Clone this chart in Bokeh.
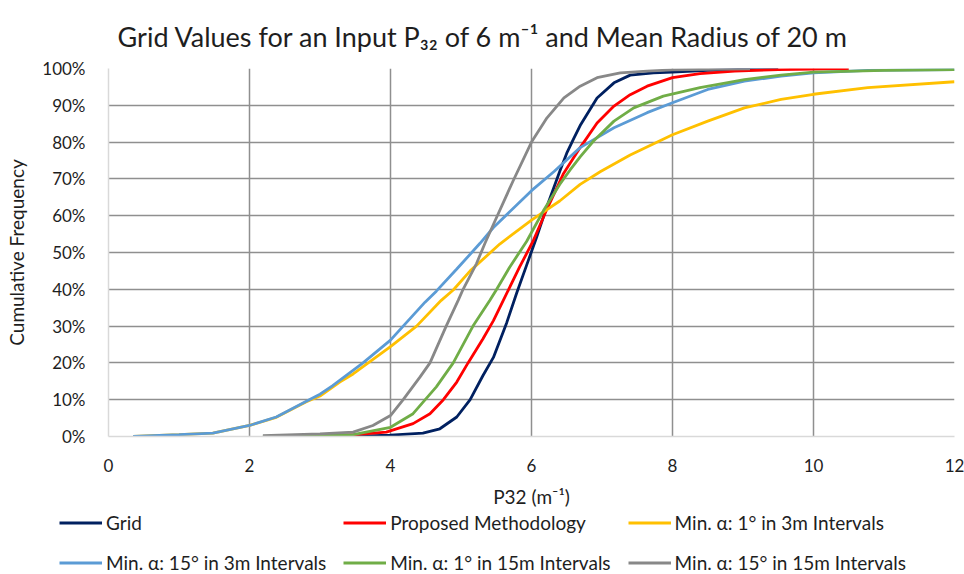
from bokeh.plotting import figure
from bokeh.layouts import column
from bokeh.models import (Range1d, FixedTicker, PrintfTickFormatter, Legend, LegendItem, Label)
from bokeh.embed import file_html
from bokeh.resources import INLINE

# ---- data ----
grid_x = [3.42, 4.0, 4.46, 4.70, 4.94, 5.13, 5.31, 5.46, 5.65, 5.79, 5.93, 6.07, 6.21, 6.40, 6.50,
          6.60, 6.69, 6.93, 7.17, 7.40, 7.73, 8.0, 8.5, 9.0, 9.5]
grid_y = [0, 0.4, 0.9, 2.1, 5.3, 10, 16.5, 21.5, 31, 39, 46.5, 54, 62, 72, 77,
          81, 84.5, 92, 96.1, 98.2, 98.8, 99.0, 99.5, 99.8, 100]

prop_x = [3.0, 3.5, 3.94, 4.32, 4.56, 4.75, 4.94, 5.10, 5.31, 5.46, 5.60, 5.83, 6.02, 6.21, 6.45,
          6.69, 6.93, 7.17, 7.40, 7.64, 8.0, 8.39, 8.88, 9.5, 10.5]
prop_y = [0, 0.5, 1.2, 3.5, 6.2, 10, 14.8, 20, 26.5, 31.5, 37, 46, 53, 61.4, 71.3,
          78.5, 85.2, 89.8, 92.9, 95.2, 97.5, 98.6, 99.3, 99.7, 100]

a1_3m_x = [0.35, 1.0, 1.48, 2.0, 2.38, 2.8, 3.0, 3.28, 3.47, 4.0, 4.37, 4.72, 4.89, 5.13, 5.55,
           6.0, 6.40, 6.69, 6.98, 7.40, 8.0, 8.5, 9.02, 9.54, 10.0, 10.77, 12.0]
a1_3m_y = [0, 0.5, 0.9, 3, 5.2, 9.4, 11, 14.8, 17, 24.4, 30, 37, 39.8, 45, 52.3,
           58.8, 64, 68.5, 72, 76.5, 82, 85.7, 89.3, 91.6, 93, 94.8, 96.4]

a15_3m_x = [0.35, 1.0, 1.48, 2.0, 2.38, 2.8, 3.0, 3.18, 3.61, 4.0, 4.18, 4.49, 4.65, 4.94, 5.27,
            5.46, 6.0, 6.32, 6.69, 7.17, 7.64, 8.0, 8.5, 9.02, 9.54, 10.0, 10.77, 12.0]
a15_3m_y = [0, 0.5, 0.9, 3, 5.3, 9.5, 11.5, 13.8, 20, 26.2, 30, 36.5, 39.5, 45.5, 52.5,
            56.8, 66.8, 72, 78.5, 83.9, 88, 90.7, 94.3, 96.6, 97.9, 98.8, 99.5, 99.7]

a1_15m_x = [2.19, 3.0, 3.47, 4.0, 4.32, 4.65, 4.89, 5.17, 5.41, 5.50, 5.69, 5.93, 6.17, 6.40, 6.55,
            6.69, 6.88, 7.17, 7.45, 7.87, 8.39, 9.02, 9.54, 10.0, 11.0, 12.0]
a1_15m_y = [0, 0.3, 0.5, 2.5, 6.2, 13.5, 20, 30, 37, 39.8, 46, 53, 61.4, 68.5, 72.5,
            76, 80.3, 85.7, 89.3, 92.5, 94.8, 97, 98.2, 99, 99.5, 99.7]

a15_15m_x = [2.19, 3.0, 3.47, 3.75, 4.0, 4.18, 4.42, 4.56, 4.79, 4.96, 5.03, 5.22, 5.34, 5.48, 5.74,
             6.0, 6.22, 6.46, 6.69, 6.93, 7.26, 7.64, 8.0, 8.5, 9.1]
a15_15m_y = [0.2, 0.7, 1.2, 3, 5.7, 10, 16.2, 20, 30, 37, 40, 47, 52.5, 58.5, 69.5,
             80, 86.6, 92, 95.2, 97.5, 98.8, 99.3, 99.6, 99.8, 99.9]

x_ticks = [0, 2, 4, 6, 8, 10, 12]
y_ticks = [0, 10, 20, 30, 40, 50, 60, 70, 80, 90, 100]

series = [
    ("Grid", grid_x, grid_y, "#002060"),
    ("Proposed Methodology", prop_x, prop_y, "#ff0000"),
    ("Min. α: 1° in 3m Intervals", a1_3m_x, a1_3m_y, "#ffc000"),
    ("Min. α: 15° in 3m Intervals", a15_3m_x, a15_3m_y, "#5b9bd5"),
    ("Min. α: 1° in 15m Intervals", a1_15m_x, a1_15m_y, "#70ad47"),
    ("Min. α: 15° in 15m Intervals", a15_15m_x, a15_15m_y, "#888888"),
]

FONT = "Lato"
TXT = "#1e1e1e"
W = 964
H_TITLE = 56
H_LEG = 64
H_MAIN = 574 - H_TITLE - H_LEG
LW = 2.8


def strip(height):
    f = figure(width=W, height=height, output_backend="svg", toolbar_location=None,
               x_range=Range1d(-100, -99), y_range=Range1d(-100, -99),
               x_axis_location=None, y_axis_location=None, min_border=0)
    f.frame_align = False
    f.grid.visible = False
    f.outline_line_color = None
    f.border_fill_color = "white"
    f.background_fill_color = "white"
    return f


# ---- title strip ----
pt = strip(H_TITLE)
pt.add_layout(Label(x=483, y=H_TITLE - 36, x_units="screen", y_units="screen",
                    text="Grid Values for an Input P₃₂ of 6 m⁻¹ and Mean Radius of 20 m",
                    text_font=FONT, text_font_size="27px", text_color=TXT,
                    text_align="center", text_baseline="alphabetic"))

# ---- main chart ----
p = figure(width=W, height=H_MAIN, output_backend="svg", toolbar_location=None,
           x_range=Range1d(0, 12), y_range=Range1d(0, 100))
p.frame_align = False
p.min_border_left = 108
p.min_border_right = 10
p.min_border_top = 68 - H_TITLE
p.min_border_bottom = (574 - H_LEG) - 436
p.outline_line_color = None
p.background_fill_color = "white"
p.border_fill_color = "white"

p.xaxis.ticker = FixedTicker(ticks=x_ticks)
p.yaxis.ticker = FixedTicker(ticks=y_ticks)
p.yaxis.formatter = PrintfTickFormatter(format="%d%%")
for ax in (p.xaxis[0], p.yaxis[0]):
    ax.axis_line_color = "#d9d9d9"
    ax.axis_line_width = 1.5
    ax.major_tick_line_color = None
    ax.minor_tick_line_color = None
    ax.major_label_text_font = FONT
    ax.major_label_text_font_size = "17px"
    ax.major_label_text_color = TXT
    ax.axis_label_text_font = FONT
    ax.axis_label_text_font_style = "normal"
    ax.axis_label_text_font_size = "19px"
    ax.axis_label_text_color = TXT
p.xaxis.major_label_standoff = 16
p.yaxis.major_label_standoff = 17
p.xaxis.axis_label = "P32 (m⁻¹)"
p.xaxis.axis_label_standoff = 10
p.yaxis.axis_label = "Cumulative Frequency"
p.yaxis.axis_label_standoff = 11

p.xgrid.ticker = FixedTicker(ticks=x_ticks[1:])
p.ygrid.ticker = FixedTicker(ticks=y_ticks[1:])
for g in (p.xgrid[0], p.ygrid[0]):
    g.grid_line_color = "#8f8f8f"
    g.grid_line_width = 1.5

for name, xs, ys, col in series:
    p.line(xs, ys, line_color=col, line_width=LW)

# ---- legend strip (its lines lie outside its visible range) ----
pl = strip(H_LEG)
items = []
for name, xs, ys, col in series:
    r = pl.line(xs, ys, line_color=col, line_width=LW)
    items.append(LegendItem(label=name, renderers=[r]))

legend = Legend(items=items, orientation="horizontal", ncols=3,
                location=(59, 0), padding=0, margin=0, spacing=17,
                glyph_width=43, glyph_height=19, label_height=19, label_standoff=4,
                label_text_font=FONT, label_text_font_size="19px", label_text_color=TXT,
                label_text_line_height=1.0,
                border_line_color=None, background_fill_alpha=0)
pl.add_layout(legend, "center")

layout = column(pt, p, pl, spacing=0)
open("out.html", "w").write(file_html(layout, INLINE))
